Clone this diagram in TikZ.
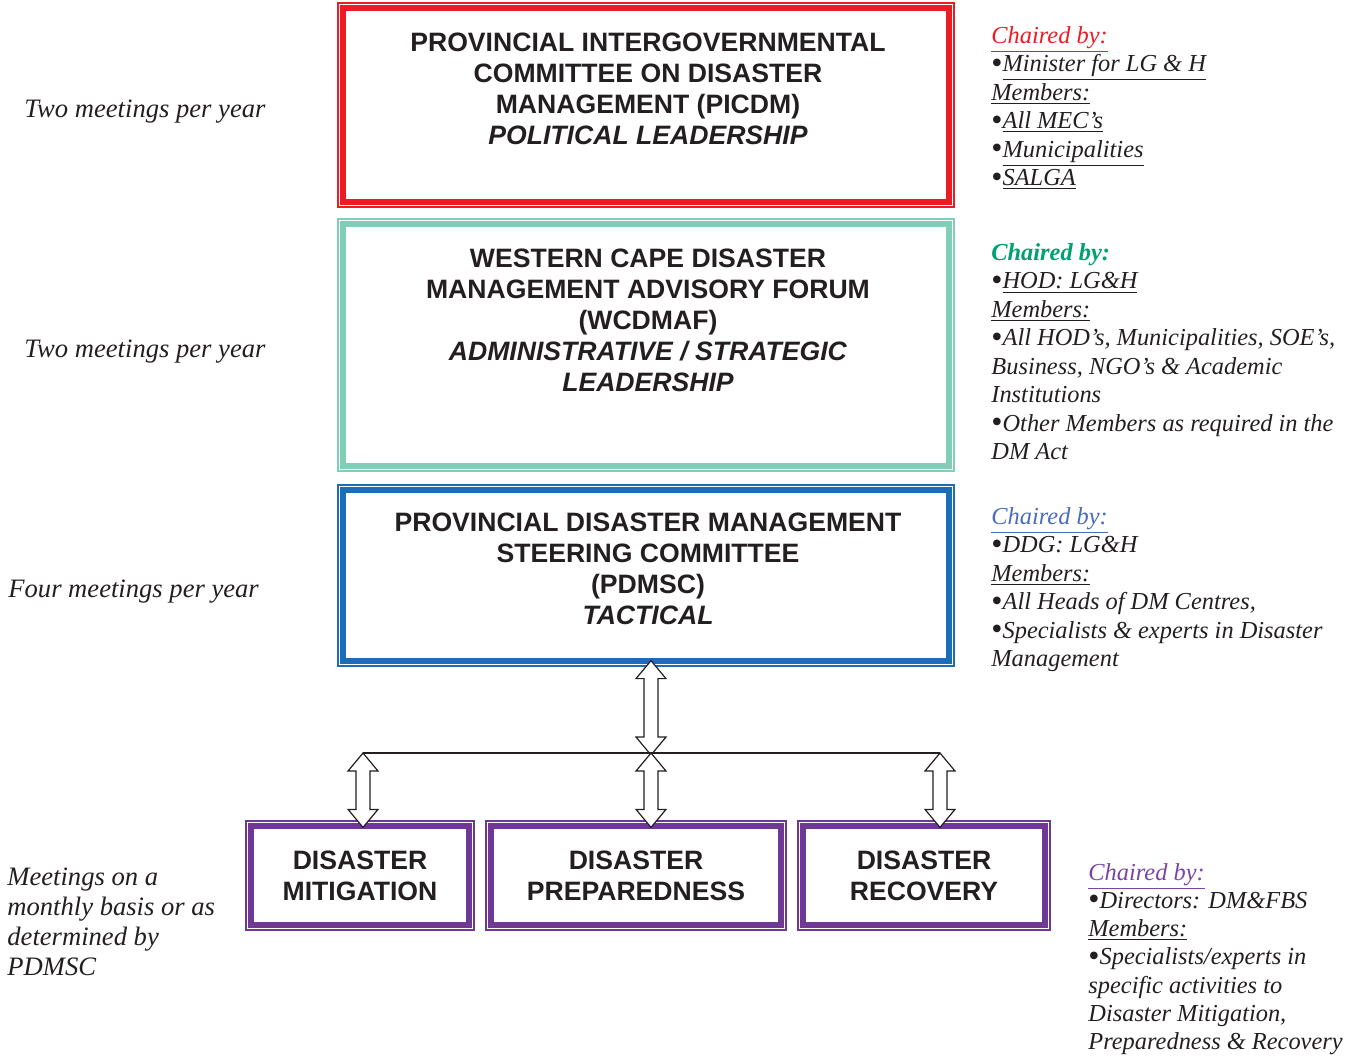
\documentclass[tikz,border=0pt]{standalone}
\usepackage{fontspec}
\setmainfont{Liberation Serif}
\newfontfamily\boxfont{Liberation Sans}
\usetikzlibrary{calc}

\definecolor{tierred}{HTML}{ED1C24}
\definecolor{tierteal}{HTML}{80CDB8}
\definecolor{tierblue}{HTML}{1A6DB6}
\definecolor{tierpurple}{HTML}{6E3894}
\definecolor{chairgreen}{HTML}{00A070}
\definecolor{chairblue}{HTML}{4A6BBE}
\definecolor{chairpurple}{HTML}{7B44A6}
\definecolor{ink}{HTML}{231F20}

% bigger list bullet
\newcommand{\blt}{\smash{\raisebox{-0.6pt}{\fontsize{16}{14}\selectfont\upshape•}}}

% hollow up/down block arrow between two points on one vertical
\newcommand{\blockarrow}[2]{%
  \draw [ink, fill=white, line width=0.6pt, line join=miter] let \p1=(#1), \p2=(#2) in
    (\x1,\y1) -- (\x1+7.5pt,\y1-9pt) -- (\x1+3.5pt,\y1-9pt) -- (\x1+3.5pt,\y2+9pt)
    -- (\x1+7.5pt,\y2+9pt) -- (\x1,\y2) -- (\x1-7.5pt,\y2+9pt) -- (\x1-3.5pt,\y2+9pt)
    -- (\x1-3.5pt,\y1-9pt) -- (\x1-7.5pt,\y1-9pt) -- cycle;}

\begin{document}
\begin{tikzpicture}[x=0.5pt,y=-0.5pt,
  tier/.style={draw=#1, line width=0.6pt, fill=white, inner sep=0pt,
    path picture={
      \draw [#1, line width=0.3pt] ([xshift=1.2pt,yshift=-1.2pt]path picture bounding box.north west) rectangle ([xshift=-1.2pt,yshift=1.2pt]path picture bounding box.south east);
      \draw [#1, line width=2.5pt] ([xshift=2.8pt,yshift=-2.8pt]path picture bounding box.north west) rectangle ([xshift=-2.8pt,yshift=2.8pt]path picture bounding box.south east);}},
  boxtext/.style={align=center, inner sep=0pt, text=ink, font=\boxfont\bfseries\fontsize{13.3}{15.5}\selectfont},
  side/.style={inner sep=0pt, text=ink, font=\itshape\fontsize{13.3}{15}\selectfont},
  note/.style={anchor=north west, align=left, inner sep=0pt, text=ink, font=\itshape\fontsize{12.2}{14.25}\selectfont}]
\useasboundingbox (0,0) rectangle (1356,1057);

\node [tier=tierred, minimum width=308pt, minimum height=102pt] (picdm) at (646,105) {};
\node [tier=tierteal, minimum width=308pt, minimum height=126pt] (wcdmaf) at (646,345) {};
\node [tier=tierblue, minimum width=308pt, minimum height=90.5pt] (pdmsc) at (646,575.5) {};

\node [boxtext] (picdmlbl) at (648,89) {PROVINCIAL INTERGOVERNMENTAL\\COMMITTEE ON DISASTER\\MANAGEMENT (PICDM)\\\textit{POLITICAL LEADERSHIP}};
\node [boxtext] (wcdmaflbl) at (648,320.5) {WESTERN CAPE DISASTER\\MANAGEMENT ADVISORY FORUM\\(WCDMAF)\\\textit{ADMINISTRATIVE / STRATEGIC}\\\textit{LEADERSHIP}};
\node [boxtext] (pdmsclbl) at (648,569) {PROVINCIAL DISASTER MANAGEMENT\\STEERING COMMITTEE\\(PDMSC)\\\textit{TACTICAL}};

\node [tier=tierpurple, boxtext, minimum width=114pt, minimum height=54.5pt] (mitig) at (360,875.5) {DISASTER\\MITIGATION};
\node [tier=tierpurple, boxtext, minimum width=150pt, minimum height=54.5pt] (prep) at (636,875.5) {DISASTER\\PREPAREDNESS};
\node [tier=tierpurple, boxtext, minimum width=126pt, minimum height=54.5pt] (recov) at (924,875.5) {DISASTER\\RECOVERY};

%------------\\

\coordinate (hub) at (651,753);
\coordinate (lineL) at (363,753);
\coordinate (lineR) at (940,753);

\blockarrow{[yshift=3pt]hub |- pdmsc.south}{[yshift=-1pt]hub}
\blockarrow{lineL}{[yshift=-3.5pt]lineL |- mitig.north}
\blockarrow{hub}{[yshift=-3.5pt]hub |- prep.north}
\blockarrow{lineR}{[yshift=-3.5pt]lineR |- recov.north}
\draw [ink, line width=0.8pt] (lineL) -- (lineR);

%------------\\

\node [side, anchor=base west] (picdmfreq) at (24,117) {Two meetings per year};
\node [side, anchor=base west] (wcdmaffreq) at (24,357) {Two meetings per year};
\node [side, anchor=base west] (pdmscfreq) at (8,597) {Four meetings per year};
\node [side, anchor=north west, align=left] (opsfreq) at (7,867) {Meetings on a\\monthly basis or as\\determined by\\PDMSC};

\node [note] (picdmchair) at (991,26) {\textcolor{tierred}{\underline{Chaired by:}}\\
\blt\underline{Minister for LG \& H}\\
\underline{Members:}\\
\blt\underline{All MEC’s}\\
\blt\underline{Municipalities}\\
\blt\underline{SALGA}};

\node [note] (wcdmafchair) at (991,243) {\textcolor{chairgreen}{\bfseries Chaired by:}\\
\blt\underline{HOD: LG\&H}\\
\underline{Members:}\\
\blt All HOD’s, Municipalities, SOE’s,\\
Business, NGO’s \& Academic\\
Institutions\\
\blt Other Members as required in the\\
DM Act};

\node [note] (pdmscchair) at (991,507) {\textcolor{chairblue}{\underline{Chaired by:}}\\
\blt DDG: LG\&H\\
\underline{Members:}\\
\blt All Heads of DM Centres,\\
\blt Specialists \& experts in Disaster\\
Management};

\node [note, font=\itshape\fontsize{12.2}{14.1}\selectfont] (opschair) at (1088,863) {\textcolor{chairpurple}{\underline{Chaired by:}}\\
\blt Directors: DM\&FBS\\
\underline{Members:}\\
\blt Specialists/experts in\\
specific activities to\\
Disaster Mitigation,\\
Preparedness \& Recovery};
\end{tikzpicture}
\end{document}
